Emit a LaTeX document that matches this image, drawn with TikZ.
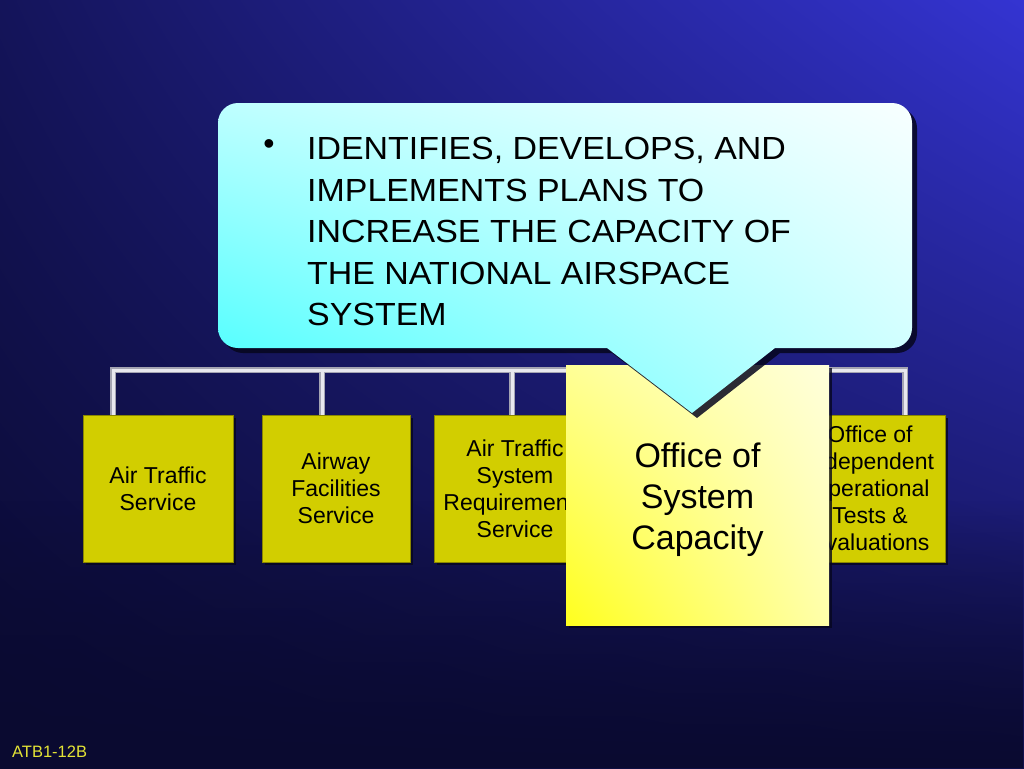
\documentclass[tikz,border=0pt]{standalone}
\usepackage{fontspec}
\setmainfont{Liberation Sans}
\newfontfamily\calloutfont[FakeStretch=1.06]{Liberation Sans}
\usetikzlibrary{shadings,fadings}
\definecolor{bgUL}{HTML}{14145A}
\definecolor{bgUR}{HTML}{3434D2}
\definecolor{bgLL}{HTML}{0A0A30}
\definecolor{bgLR}{HTML}{10104A}
\definecolor{boxfill}{HTML}{D2CE00}
\definecolor{boxline}{HTML}{8A8700}
\definecolor{pipeedge}{HTML}{A4A4B2}
\definecolor{pipemid}{HTML}{E8E8EE}
\definecolor{shadowc}{HTML}{06061E}
\definecolor{foot}{HTML}{E4E436}
\tikzset{
  unit/.style={draw=boxline, line width=0.6pt, fill=boxfill, inner sep=0pt,
    minimum width=150pt, minimum height=147pt, align=center,
    font=\fontsize{23}{27}\selectfont},
  unitshadow/.style={fill=shadowc, opacity=0.8},
  pipeouter/.style={draw=pipeedge, line width=6pt},
  pipeinner/.style={draw=pipemid, line width=3pt},
}
\begin{document}
\begin{tikzpicture}[x=1pt,y=-1pt]
\useasboundingbox (0,0) rectangle (1024,768);
% background
\shade[upper left=bgUL, upper right=bgUR, lower left=bgLL, lower right=bgLR] (0,0) rectangle (1024,768);
\fill[bgLL, path fading=north] (0,500) rectangle (1024,768);

% connector bus coordinates
\coordinate (busL) at (113,370);
\coordinate (busR) at (905,370);

% unit box shadows
\fill[unitshadow] (86,418) rectangle (236,565);
\fill[unitshadow] (265,418) rectangle (413,565);
\fill[unitshadow] (437,418) rectangle (599,565);
\fill[unitshadow] (798,418) rectangle (948,565);

% unit boxes
\node[unit] (b1) at (158,488.5) {Air Traffic\\Service};
\node[unit, minimum width=148pt] (b2) at (336,488.5) {Airway\\Facilities\\Service};
\node[unit, minimum width=162pt] (b3) at (515,488.5) {Air Traffic\\System\\Requirements\\Service};
\node[unit] (b4) at (870,488.5) {Office of\\Independent\\Operational\\Tests \&\\Evaluations};

\coordinate (t1) at (113,415);
\coordinate (t2) at (322,415);
\coordinate (t3) at (512,415);
\coordinate (t4) at (905,415);

% pipes
\foreach \s in {pipeouter,pipeinner}{
  \draw[\s] (t1) -- (busL) -- (busR) -- (t4);
  \draw[\s] (t2) -- (t2 |- busL);
  \draw[\s] (t3) -- (t3 |- busL);
}

% office of system capacity
\fill[unitshadow] (569,368) rectangle (832,628);
\shade[upper left={rgb,255:red,255;green,255;blue,150}, upper right={rgb,255:red,255;green,255;blue,220},
       lower left={rgb,255:red,255;green,255;blue,30}, lower right={rgb,255:red,255;green,255;blue,170}]
  (566,365) rectangle (829,625);
\node[inner sep=0pt, minimum width=263pt, minimum height=260pt, align=center,
      font=\fontsize{34}{41}\selectfont] (office) at (697.5,500) {Office of\\System\\Capacity};

% callout shadow
\fill[shadowc, opacity=0.85] (223,230) [rounded corners=20] -- (223,108) -- (917,108) -- (917,353) [sharp corners] -- (780,353) -- (697,418) -- (612,353) [rounded corners=20] -- (223,353) -- cycle;
% callout
\shade[upper left={rgb,255:red,190;green,255;blue,255}, upper right={rgb,255:red,248;green,255;blue,255},
       lower left={rgb,255:red,60;green,255;blue,255}, lower right={rgb,255:red,200;green,255;blue,255}]
  (218,225) [rounded corners=20] -- (218,103) -- (912,103) -- (912,348) [sharp corners] -- (775,348) -- (692,413) -- (607,348) [rounded corners=20] -- (218,348) -- cycle;
\node[inner sep=0pt, font=\fontsize{32}{41.5}\selectfont] (bullet) at (269,147) {•};
\node[inner sep=0pt, anchor=north west, align=left, font=\calloutfont\fontsize{32}{41.5}\selectfont] (desc) at (307,137)
  {IDENTIFIES, DEVELOPS, AND\\IMPLEMENTS PLANS TO\\INCREASE THE CAPACITY OF\\THE NATIONAL AIRSPACE\\SYSTEM};

% footer
\node[inner sep=0pt, anchor=west, text=foot, font=\fontsize{16.5}{18}\selectfont] (footer) at (12,752) {ATB1-12B};
\end{tikzpicture}
\end{document}
